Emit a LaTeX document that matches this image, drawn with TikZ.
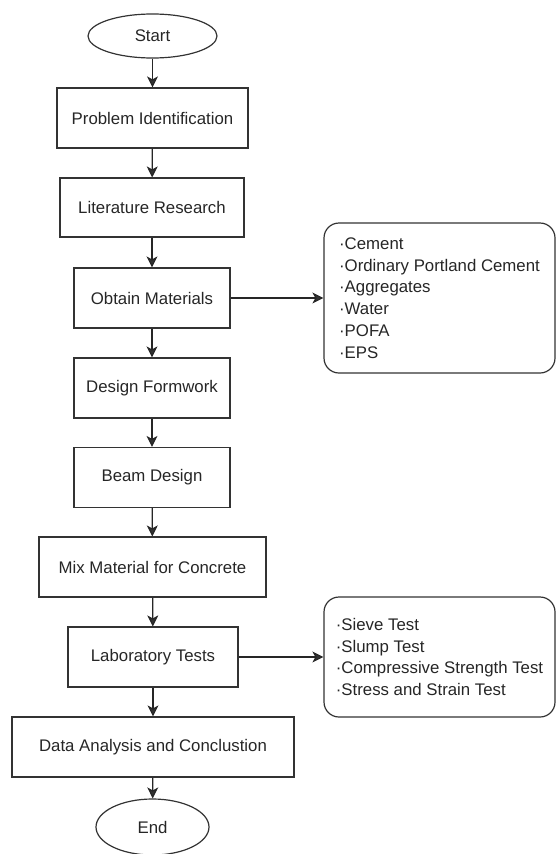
\documentclass[tikz,border=0pt]{standalone}
\usepackage{fontspec}
\setmainfont{Liberation Sans}
\usetikzlibrary{shapes.geometric, arrows.meta}

\begin{document}
\begin{tikzpicture}[x=1pt, y=-1pt, line width=1.2pt, draw=black!80,
		every node/.append style = {font=\fontsize{16.8}{21.7}\selectfont, text=black!85},
		procbox/.style = {draw=black!80, rectangle, minimum height=60pt, inner sep=0pt},
		termnode/.style = {draw=black!80, ellipse, inner sep=0pt},
		listbox/.style = {draw=black!80, rectangle, rounded corners=15pt, align=left, inner sep=0pt, minimum width=231pt},
		flow/.style = {draw=black!85, -{Stealth[length=11pt, width=11pt, inset=3pt]}}]
	\useasboundingbox (0,0) rectangle (556,854);

	\node[termnode, minimum width=129pt, minimum height=44pt] (start) at (152.5,36) {Start};
	\node[procbox, minimum width=191pt] (probid) at (152.5,118) {Problem Identification};
	\node[procbox, minimum width=184pt, minimum height=59pt] (litres) at (152,207.5) {Literature Research};
	\node[procbox, minimum width=156pt] (obtain) at (152,298) {Obtain Materials};
	\node[procbox, minimum width=156pt] (formwork) at (152,388) {Design Formwork};
	\node[procbox, minimum width=156pt] (beamdes) at (152,477.5) {Beam Design};
	\node[procbox, minimum width=227pt] (mixmat) at (152.5,567) {Mix Material for Concrete};
	\node[procbox, minimum width=170pt] (labtest) at (153,657) {Laboratory Tests};
	\node[procbox, minimum width=282pt] (analysis) at (153,747) {Data Analysis and Conclustion};
	\node[termnode, minimum width=113pt, minimum height=56pt] (finish) at (152.5,827) {End};

	\node[listbox, minimum height=150pt] (matlist) at (439.5,298)
		{·Cement\\·Ordinary Portland Cement\\·Aggregates\\·Water\\·POFA\\·EPS};
	\node[listbox, minimum height=120pt] (testlist) at (439.5,657)
		{·Sieve Test\\·Slump Test\\·Compressive Strength Test\\·Stress and Strain Test};

	\path[flow]
		(start) edge (probid)
		(probid) edge (litres)
		(litres) edge (obtain)
		(obtain) edge (formwork)
		(formwork) edge (beamdes)
		(beamdes) edge (mixmat)
		(mixmat) edge (labtest)
		(labtest) edge (analysis)
		(analysis) edge (finish);

	\path[flow]
		(obtain) edge (matlist)
		(labtest) edge (testlist);
\end{tikzpicture}
\end{document}
